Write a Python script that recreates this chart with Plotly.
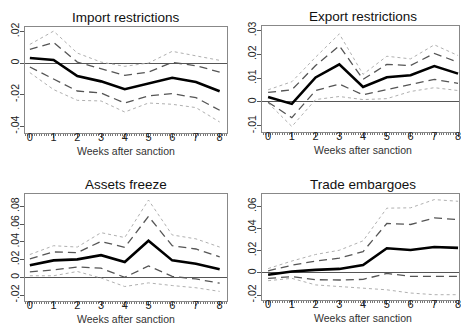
import plotly.graph_objects as go

weeks = [0, 1, 2, 3, 4, 5, 6, 7, 8]

titles = ["Import restrictions", "Export restrictions", "Assets freeze", "Trade embargoes"]

# Import restrictions
imp_est = [0.0032, 0.0019, -0.0082, -0.0116, -0.0166, -0.0130, -0.0093, -0.0120, -0.0179]
imp_up95 = [0.0086, 0.0130, 0.0006, -0.0036, -0.0078, -0.0057, 0.0004, -0.0017, -0.0057]
imp_lo95 = [-0.0025, -0.0099, -0.0177, -0.0190, -0.0253, -0.0208, -0.0194, -0.0219, -0.0299]
imp_up99 = [0.0118, 0.0202, 0.0063, 0.0006, -0.0021, 0.0000, 0.0074, 0.0044, 0.0017]
imp_lo99 = [-0.0061, -0.0168, -0.0236, -0.0240, -0.0310, -0.0253, -0.0261, -0.0282, -0.0373]

# Export restrictions
exp_est = [0.0021, -0.0008, 0.0103, 0.0158, 0.0063, 0.0104, 0.0112, 0.0151, 0.0119]
exp_up95 = [0.0040, 0.0051, 0.0153, 0.0236, 0.0095, 0.0158, 0.0153, 0.0204, 0.0167]
exp_lo95 = [-0.0001, -0.0066, 0.0048, 0.0075, 0.0030, 0.0051, 0.0071, 0.0095, 0.0078]
exp_up99 = [0.0051, 0.0085, 0.0188, 0.0286, 0.0116, 0.0192, 0.0181, 0.0240, 0.0195]
exp_lo99 = [-0.0004, -0.0103, 0.0010, 0.0023, 0.0010, 0.0014, 0.0044, 0.0060, 0.0048]

# Assets freeze
ast_est = [0.0136, 0.0191, 0.0202, 0.0250, 0.0172, 0.0411, 0.0191, 0.0154, 0.0092]
ast_up95 = [0.0209, 0.0286, 0.0279, 0.0404, 0.0338, 0.0686, 0.0356, 0.0319, 0.0231]
ast_lo95 = [0.0062, 0.0084, 0.0117, 0.0103, 0.0000, 0.0128, 0.0011, -0.0018, -0.0066]
ast_up99 = [0.0257, 0.0356, 0.0341, 0.0503, 0.0448, 0.0870, 0.0477, 0.0433, 0.0341]
ast_lo99 = [0.0018, 0.0018, 0.0066, -0.0007, -0.0103, -0.0062, -0.0092, -0.0117, -0.0158]

# Trade embargoes
emb_est = [-0.0018, 0.0012, 0.0026, 0.0035, 0.0070, 0.0221, 0.0206, 0.0232, 0.0224]
emb_up95 = [0.0018, 0.0068, 0.0106, 0.0132, 0.0191, 0.0444, 0.0435, 0.0494, 0.0479]
emb_lo95 = [-0.0050, -0.0035, -0.0062, -0.0065, -0.0059, -0.0006, -0.0032, -0.0032, -0.0032]
emb_up99 = [0.0038, 0.0106, 0.0165, 0.0203, 0.0288, 0.0582, 0.0585, 0.0659, 0.0644]
emb_lo99 = [-0.0071, -0.0050, -0.0109, -0.0124, -0.0138, -0.0153, -0.0182, -0.0197, -0.0197]

imp_yticks = [0.02, 0, -0.02, -0.04]
imp_ylabels = [".02", "0", "-.02", "-.04"]
exp_yticks = [0.03, 0.02, 0.01, 0, -0.01]
exp_ylabels = [".03", ".02", ".01", "0", "-.01"]
ast_yticks = [0.08, 0.06, 0.04, 0.02, 0, -0.02]
ast_ylabels = [".08", ".06", ".04", ".02", "0", "-.02"]
emb_yticks = [0.06, 0.04, 0.02, 0, -0.02]
emb_ylabels = [".06", ".04", ".02", "0", "-.02"]

xlabel = "Weeks after sanction"

panels = [
    dict(est=imp_est, u95=imp_up95, l95=imp_lo95, u99=imp_up99, l99=imp_lo99,
         yt=imp_yticks, yl=imp_ylabels, yr=[-0.0444, 0.0231], xr=[-0.21, 8.31],
         xd=[25/461, 228/461], yd=[1-131/327, 1-22/327]),
    dict(est=exp_est, u95=exp_up95, l95=exp_lo95, u99=exp_up99, l99=exp_lo99,
         yt=exp_yticks, yl=exp_ylabels, yr=[-0.0127, 0.0318], xr=[-0.25, 8.04],
         xd=[263.3/461, 1.0], yd=[1-130/327, 1-21.7/327]),
    dict(est=ast_est, u95=ast_up95, l95=ast_lo95, u99=ast_up99, l99=ast_lo99,
         yt=ast_yticks, yl=ast_ylabels, yr=[-0.0264, 0.0936], xr=[-0.21, 8.31],
         xd=[25/461, 228/461], yd=[1-302.3/327, 1-193.3/327]),
    dict(est=emb_est, u95=emb_up95, l95=emb_lo95, u99=emb_up99, l99=emb_lo99,
         yt=emb_yticks, yl=emb_ylabels, yr=[-0.0247, 0.0708], xr=[-0.25, 8.04],
         xd=[263.3/461, 1.0], yd=[1-301.7/327, 1-193.3/327]),
]

FONT = "Liberation Sans, Arial, sans-serif"
fig = go.Figure()
layout = dict(
    width=461, height=327,
    margin=dict(l=0, r=0, t=0, b=0),
    paper_bgcolor="white", plot_bgcolor="white",
    showlegend=False,
    font=dict(family=FONT, color="#333"),
    annotations=[],
)

for i, p in enumerate(panels):
    n = "" if i == 0 else str(i + 1)
    xa, ya = "x" + n, "y" + n
    for key, color, width, dash in [("l99", "#b0b0b0", 1, "dot"), ("u99", "#b0b0b0", 1, "dot"),
                                    ("l95", "#555555", 1.3, "8px,5px"), ("u95", "#555555", 1.3, "8px,5px"),
                                    ("est", "#000000", 2.6, "solid")]:
        fig.add_trace(go.Scatter(x=weeks, y=p[key], mode="lines",
                                 line=dict(color=color, width=width, dash=dash),
                                 xaxis=xa, yaxis=ya, hoverinfo="skip"))
    layout["xaxis" + n] = dict(
        domain=p["xd"], range=p["xr"], anchor=ya,
        tickvals=weeks, ticktext=[str(w) for w in weeks],
        ticks="outside", ticklen=4, tickcolor="#555", tickwidth=1,
        minor=dict(dtick=0.1, tick0=0, ticks="outside", ticklen=2, tickcolor="#777", tickwidth=0.6),
        showgrid=False, zeroline=False,
        showline=True, mirror=True, linecolor="#888", linewidth=1,
        tickfont=dict(size=11, color="#222"),
        ticklabelstandoff=-10, ticklabeloverflow="allow",
    )
    layout["yaxis" + n] = dict(
        domain=p["yd"], range=p["yr"], anchor=xa,
        tickvals=p["yt"], ticktext=p["yl"], tickangle=-90,
        ticks="outside", ticklen=4, tickcolor="#555", tickwidth=1,
        showgrid=False, zeroline=True, zerolinecolor="#555", zerolinewidth=1,
        showline=True, mirror=True, linecolor="#888", linewidth=1,
        tickfont=dict(size=10.5, color="#222"),
        ticklabelstandoff=-3,
    )
    xc = (p["xd"][0] + p["xd"][1]) / 2 if i % 2 == 0 else (263.3 + 203 / 2) / 461
    layout["annotations"].append(dict(
        text=titles[i], x=xc, y=p["yd"][1] + 9.5 / 327, xref="paper", yref="paper",
        xanchor="center", yanchor="middle", showarrow=False,
        font=dict(size=13.5, color="#111", family=FONT)))
    layout["annotations"].append(dict(
        text=xlabel, x=xc, y=p["yd"][0] - 18.5 / 327, xref="paper", yref="paper",
        xanchor="center", yanchor="middle", showarrow=False,
        font=dict(size=10.5, color="#333", family=FONT)))

fig.update_layout(**layout)
fig.write_html("out.html", config={"displayModeBar": False},
               post_script="document.body.style.margin='0';document.body.style.overflow='hidden';")
